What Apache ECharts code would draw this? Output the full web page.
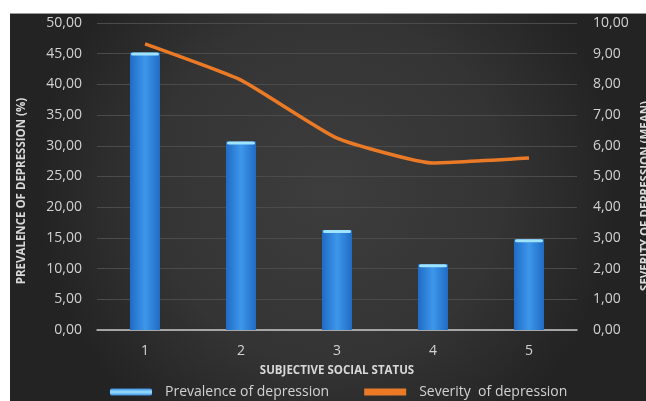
<!DOCTYPE html>
<html><head><meta charset="utf-8">
<script src="https://cdn.jsdelivr.net/npm/echarts@6/dist/echarts.min.js"></script>
<style>html,body{margin:0;padding:0;background:#fff}#c{width:646px;height:401px}</style>
</head><body><div id="c"></div>
<script>
const categories = ['1','2','3','4','5'];
const prevalence = [45.2, 30.7, 16.3, 10.7, 14.8];
const severity = [9.32, 8.14, 6.25, 5.44, 5.6];
const leftTicks = {min:0, max:50, interval:5};
const rightTicks = {min:0, max:10, interval:1};
const fmt = v => v.toFixed(2).replace('.', ',');

const chart = echarts.init(document.getElementById('c'), null, {renderer:'canvas'});
const labelStyle = {color:'#d2d2d2', fontFamily:'Open Sans', fontSize:14};
const titleStyle = {fill:'#d8d8d8', fontFamily:'Open Sans', fontSize:11.5, fontWeight:'bold', align:'center', verticalAlign:'middle'};
chart.setOption({
  backgroundColor:'#ffffff',
  animation:false,
  graphic:[{
    type:'rect', z:-100, silent:true,
    shape:{x:10, y:13, width:636, height:388},
    style:{fill:new echarts.graphic.RadialGradient(0.5,0.45,0.75,[
      {offset:0,color:'#3d3d3d'},{offset:0.6,color:'#343434'},{offset:1,color:'#232323'}])}
  },{
    type:'line', z:-99, silent:true,
    shape:{x1:10,y1:13.5,x2:646,y2:13.5},
    style:{stroke:'#9a9a9a', lineWidth:1}
  },{
    type:'text', silent:true, x:22, y:191, rotation:Math.PI/2,
    style:Object.assign({text:'PREVALENCE OF DEPRESSION (%)'}, titleStyle)
  },{
    type:'text', silent:true, x:646, y:196, rotation:Math.PI/2,
    style:Object.assign({text:'SEVERITY OF DEPRESSION (MEAN)'}, titleStyle)
  }],
  grid:{left:97, right:69, top:23, bottom:71},
  legend:{
    left:105, top:380, itemGap:35, itemWidth:42, itemHeight:7,
    textStyle:{color:'#d2d2d2', fontFamily:'Open Sans', fontSize:14, padding:[0,0,0,8]},
    data:[
      {name:'Prevalence of depression', icon:'roundRect',
       itemStyle:{color:new echarts.graphic.LinearGradient(0,0,0,1,[
         {offset:0,color:'#3a8fe0'},{offset:0.5,color:'#9ee0ff'},{offset:1,color:'#3a8fe0'}])}},
      {name:'Severity  of depression', icon:'rect'}
    ]
  },
  xAxis:{
    type:'category', data:categories,
    name:'SUBJECTIVE SOCIAL STATUS', nameLocation:'middle', nameGap:35,
    nameTextStyle:{color:'#d8d8d8', fontFamily:'Open Sans', fontSize:11.5, fontWeight:'bold'},
    axisLine:{lineStyle:{color:'#c8c8c8', width:1.5}},
    axisTick:{show:false},
    axisLabel:Object.assign({margin:14}, labelStyle)
  },
  yAxis:[{
    type:'value', min:leftTicks.min, max:leftTicks.max, interval:leftTicks.interval,
    axisLabel:Object.assign({formatter:fmt, margin:15}, labelStyle),
    axisLine:{show:false}, axisTick:{show:false},
    splitLine:{lineStyle:{color:'#4b4b4b', width:1}}
  },{
    type:'value', min:rightTicks.min, max:rightTicks.max, interval:rightTicks.interval,
    axisLabel:Object.assign({formatter:fmt, margin:16}, labelStyle),
    axisLine:{show:false}, axisTick:{show:false},
    splitLine:{show:false}
  }],
  series:[{
    name:'Prevalence of depression', type:'bar', yAxisIndex:0, data:prevalence,
    barWidth:30,
    itemStyle:{
      color:new echarts.graphic.LinearGradient(0,0,1,0,[
        {offset:0,color:'#1f6cc4'},{offset:0.5,color:'#3d97ea'},{offset:1,color:'#1f6cc4'}])
    }
  },{
    name:'Prevalence of depression', type:'custom', yAxisIndex:0, data:prevalence.map((v,i)=>[i,v]),
    renderItem:function(params, api){
      const p = api.coord([api.value(0), api.value(1)]);
      return {type:'rect', shape:{x:p[0]-14, y:p[1], width:28, height:3, r:1.5},
        style:{fill:'#9fe3ff'}};
    },
    z:5, silent:true, legendHoverLink:false
  },{
    name:'Severity  of depression', type:'line', yAxisIndex:1, data:severity,
    smooth:0.15, symbol:'none',
    lineStyle:{color:'#ea7a26', width:3.5},
    itemStyle:{color:'#ea7a26'}, z:6
  }]
});
</script></body></html>
